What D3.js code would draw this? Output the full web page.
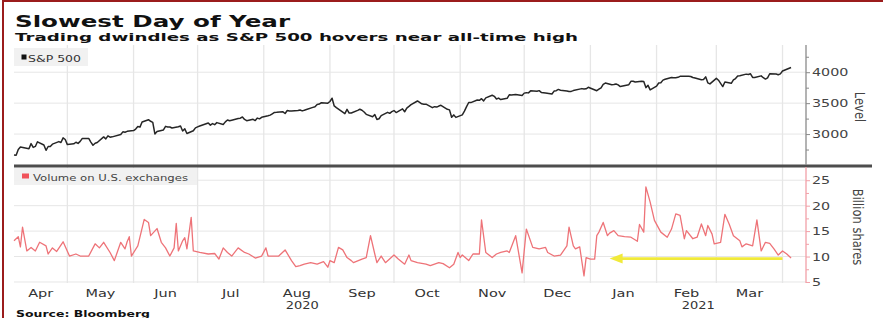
<!DOCTYPE html>
<html lang="en">
<head>
<meta charset="UTF-8">
<title>Slowest Day of Year</title>
<script src="https://cdn.jsdelivr.net/npm/d3@7"></script>
<style>
  body { margin: 0; background: #fff; overflow: hidden; }
  svg { display: block; font-family: "DejaVu Sans", Verdana, sans-serif; }
</style>
</head>
<body>
<svg id="chart" width="883" height="318"></svg>
<script>
// ---- data ----
// S&P 500 closing level, one row per week
const spDates = [
  "2020-04-06","2020-04-07","2020-04-08","2020-04-09",
  "2020-04-13","2020-04-14","2020-04-15","2020-04-16","2020-04-17",
  "2020-04-20","2020-04-21","2020-04-22","2020-04-23","2020-04-24",
  "2020-04-27","2020-04-28","2020-04-29","2020-04-30","2020-05-01",
  "2020-05-04","2020-05-05","2020-05-06","2020-05-07","2020-05-08",
  "2020-05-11","2020-05-12","2020-05-13","2020-05-14","2020-05-15",
  "2020-05-18","2020-05-19","2020-05-20","2020-05-21","2020-05-22",
  "2020-05-26","2020-05-27","2020-05-28","2020-05-29",
  "2020-06-01","2020-06-02","2020-06-03","2020-06-04","2020-06-05",
  "2020-06-08","2020-06-09","2020-06-10","2020-06-11","2020-06-12",
  "2020-06-15","2020-06-16","2020-06-17","2020-06-18","2020-06-19",
  "2020-06-22","2020-06-23","2020-06-24","2020-06-25","2020-06-26",
  "2020-06-29","2020-06-30","2020-07-01","2020-07-02",
  "2020-07-06","2020-07-07","2020-07-08","2020-07-09","2020-07-10",
  "2020-07-13","2020-07-14","2020-07-15","2020-07-16","2020-07-17",
  "2020-07-20","2020-07-21","2020-07-22","2020-07-23","2020-07-24",
  "2020-07-27","2020-07-28","2020-07-29","2020-07-30","2020-07-31",
  "2020-08-03","2020-08-04","2020-08-05","2020-08-06","2020-08-07",
  "2020-08-10","2020-08-11","2020-08-12","2020-08-13","2020-08-14",
  "2020-08-17","2020-08-18","2020-08-19","2020-08-20","2020-08-21",
  "2020-08-24","2020-08-25","2020-08-26","2020-08-27","2020-08-28",
  "2020-08-31","2020-09-01","2020-09-02","2020-09-03","2020-09-04",
  "2020-09-08","2020-09-09","2020-09-10","2020-09-11",
  "2020-09-14","2020-09-15","2020-09-16","2020-09-17","2020-09-18",
  "2020-09-21","2020-09-22","2020-09-23","2020-09-24","2020-09-25",
  "2020-09-28","2020-09-29","2020-09-30","2020-10-01","2020-10-02",
  "2020-10-05","2020-10-06","2020-10-07","2020-10-08","2020-10-09",
  "2020-10-12","2020-10-13","2020-10-14","2020-10-15","2020-10-16",
  "2020-10-19","2020-10-20","2020-10-21","2020-10-22","2020-10-23",
  "2020-10-26","2020-10-27","2020-10-28","2020-10-29","2020-10-30",
  "2020-11-02","2020-11-03","2020-11-04","2020-11-05","2020-11-06",
  "2020-11-09","2020-11-10","2020-11-11","2020-11-12","2020-11-13",
  "2020-11-16","2020-11-17","2020-11-18","2020-11-19","2020-11-20",
  "2020-11-23","2020-11-24","2020-11-25","2020-11-27",
  "2020-11-30","2020-12-01","2020-12-02","2020-12-03","2020-12-04",
  "2020-12-07","2020-12-08","2020-12-09","2020-12-10","2020-12-11",
  "2020-12-14","2020-12-15","2020-12-16","2020-12-17","2020-12-18",
  "2020-12-21","2020-12-22","2020-12-23","2020-12-24",
  "2020-12-28","2020-12-29","2020-12-30","2020-12-31",
  "2021-01-04","2021-01-05","2021-01-06","2021-01-07","2021-01-08",
  "2021-01-11","2021-01-12","2021-01-13","2021-01-14","2021-01-15",
  "2021-01-19","2021-01-20","2021-01-21","2021-01-22",
  "2021-01-25","2021-01-26","2021-01-27","2021-01-28","2021-01-29",
  "2021-02-01","2021-02-02","2021-02-03","2021-02-04","2021-02-05",
  "2021-02-08","2021-02-09","2021-02-10","2021-02-11","2021-02-12",
  "2021-02-16","2021-02-17","2021-02-18","2021-02-19",
  "2021-02-22","2021-02-23","2021-02-24","2021-02-25","2021-02-26",
  "2021-03-01","2021-03-02","2021-03-03","2021-03-04","2021-03-05",
  "2021-03-08","2021-03-09","2021-03-10","2021-03-11","2021-03-12",
  "2021-03-15","2021-03-16","2021-03-17","2021-03-18","2021-03-19",
  "2021-03-22","2021-03-23","2021-03-24","2021-03-25","2021-03-26",
  "2021-03-29","2021-03-30","2021-03-31","2021-04-01",
  "2021-04-05"
];
const spLevel = [
  2663, 2659, 2750, 2790,
  2762, 2846, 2784, 2800, 2875,
  2823, 2737, 2799, 2798, 2837,
  2878, 2863, 2939, 2912, 2830,
  2843, 2868, 2849, 2882, 2930,
  2930, 2870, 2820, 2852, 2864,
  2954, 2922, 2972, 2949, 2955,
  2992, 3036, 3030, 3044,
  3056, 3081, 3122, 3112, 3194,
  3232, 3207, 3190, 3002, 3041,
  3067, 3125, 3113, 3115, 3098,
  3118, 3131, 3050, 3084, 3009,
  3053, 3100, 3116, 3130,
  3180, 3145, 3169, 3152, 3185,
  3155, 3197, 3227, 3216, 3225,
  3251, 3257, 3276, 3236, 3216,
  3239, 3218, 3258, 3246, 3271,
  3295, 3306, 3327, 3349, 3351,
  3360, 3333, 3380, 3373, 3373,
  3382, 3390, 3375, 3385, 3397,
  3431, 3443, 3479, 3485, 3508,
  3500, 3527, 3580, 3455, 3427,
  3331, 3399, 3339, 3341,
  3384, 3401, 3385, 3357, 3319,
  3281, 3315, 3237, 3247, 3298,
  3351, 3335, 3363, 3380, 3348,
  3408, 3361, 3419, 3447, 3477,
  3535, 3512, 3489, 3483, 3484,
  3427, 3443, 3436, 3453, 3465,
  3401, 3391, 3271, 3310, 3270,
  3310, 3370, 3443, 3510, 3509,
  3550, 3545, 3572, 3537, 3585,
  3627, 3610, 3568, 3582, 3558,
  3578, 3635, 3630, 3638,
  3622, 3662, 3669, 3666, 3699,
  3692, 3702, 3673, 3668, 3663,
  3647, 3695, 3702, 3722, 3709,
  3695, 3687, 3690, 3703,
  3735, 3727, 3732, 3756,
  3701, 3726, 3748, 3804, 3825,
  3799, 3801, 3810, 3795, 3768,
  3798, 3852, 3853, 3841,
  3855, 3849, 3751, 3788, 3714,
  3774, 3826, 3830, 3872, 3887,
  3916, 3911, 3910, 3917, 3934,
  3933, 3931, 3914, 3907,
  3877, 3881, 3925, 3829, 3811,
  3901, 3871, 3820, 3768, 3842,
  3821, 3875, 3898, 3939, 3943,
  3969, 3963, 3974, 3915, 3913,
  3941, 3911, 3889, 3910, 3975,
  3971, 3959, 3973, 4020,
  4077
];

// volume on U.S. exchanges, billion shares
const volDates = [
  "2020-04-06","2020-04-08","2020-04-09","2020-04-10","2020-04-12","2020-04-14","2020-04-16","2020-04-18",
  "2020-04-21","2020-04-22","2020-04-24","2020-04-26","2020-04-29","2020-05-02","2020-05-05","2020-05-07",
  "2020-05-11","2020-05-14","2020-05-16","2020-05-18","2020-05-21","2020-05-23","2020-05-26","2020-05-28",
  "2020-05-29","2020-05-30","2020-05-31","2020-06-03","2020-06-06","2020-06-08","2020-06-09","2020-06-12",
  "2020-06-14","2020-06-16","2020-06-18","2020-06-20","2020-06-21","2020-06-22","2020-06-24","2020-06-25",
  "2020-06-26","2020-06-28","2020-06-29","2020-07-02","2020-07-06","2020-07-09","2020-07-11","2020-07-13",
  "2020-07-15","2020-07-17","2020-07-20","2020-07-23","2020-07-25","2020-07-28","2020-07-31","2020-08-02",
  "2020-08-03","2020-08-08","2020-08-11","2020-08-14","2020-08-16","2020-08-18","2020-08-20","2020-08-23",
  "2020-08-26","2020-08-29","2020-08-31","2020-09-01","2020-09-03","2020-09-05","2020-09-07","2020-09-09",
  "2020-09-11","2020-09-12","2020-09-16","2020-09-18","2020-09-20","2020-09-22","2020-09-23","2020-09-25",
  "2020-09-27","2020-10-01","2020-10-03","2020-10-06","2020-10-08","2020-10-09","2020-10-12","2020-10-16",
  "2020-10-18","2020-10-22","2020-10-24","2020-10-27","2020-10-29","2020-10-31","2020-11-01","2020-11-02",
  "2020-11-05","2020-11-07","2020-11-10","2020-11-11","2020-11-13","2020-11-16","2020-11-18","2020-11-20",
  "2020-11-23","2020-11-24","2020-11-27","2020-11-30","2020-12-02","2020-12-05","2020-12-08","2020-12-11",
  "2020-12-12","2020-12-15","2020-12-18","2020-12-21","2020-12-22","2020-12-24","2020-12-25","2020-12-27",
  "2020-12-29","2020-12-30","2021-01-01","2021-01-03","2021-01-04","2021-01-05","2021-01-07","2021-01-09",
  "2021-01-10","2021-01-12","2021-01-14","2021-01-17","2021-01-20","2021-01-23","2021-01-24","2021-01-26",
  "2021-01-27","2021-01-29","2021-01-31","2021-02-03","2021-02-06","2021-02-08","2021-02-10","2021-02-12",
  "2021-02-14","2021-02-15","2021-02-18","2021-02-20","2021-02-22","2021-02-24","2021-02-25","2021-02-27",
  "2021-02-28","2021-03-03","2021-03-05","2021-03-07","2021-03-09","2021-03-12","2021-03-13","2021-03-15",
  "2021-03-18","2021-03-20","2021-03-22","2021-03-24","2021-03-26","2021-03-28","2021-03-30","2021-04-01",
  "2021-04-03","2021-04-05"
];
const volShares = [
  13.1, 13.9, 11.9, 15.8, 11.1, 11.8, 11.1, 12.8,
  12.1, 10.5, 11.7, 11.0, 12.9, 10.1, 10.5, 10.1,
  10.1, 12.5, 11.7, 12.8, 10.8, 9.2, 12.8, 11.5,
  12.9, 13.9, 10.1, 12.1, 17.3, 16.7, 14.1, 15.5,
  12.8, 11.7, 10.1, 11.7, 16.5, 11.1, 13.1, 13.7,
  11.5, 17.7, 11.1, 10.8, 10.5, 10.6, 9.5, 11.7,
  10.8, 10.1, 11.7, 10.8, 10.5, 9.7, 10.1, 11.7,
  10.1, 10.1, 11.3, 9.2, 8.0, 8.2, 8.5, 8.8,
  8.5, 9.0, 7.9, 9.2, 8.8, 11.8, 11.3, 9.8,
  9.2, 8.8, 9.5, 9.8, 14.1, 10.5, 8.8, 10.1,
  8.8, 10.3, 9.5, 8.5, 10.3, 9.2, 8.8, 8.5,
  8.2, 8.8, 8.6, 7.8, 8.5, 10.8, 9.8, 10.3,
  9.2, 10.5, 10.5, 17.2, 10.8, 9.8, 10.5, 10.8,
  11.1, 10.8, 14.1, 6.8, 15.4, 11.8, 11.5, 11.8,
  10.8, 10.1, 10.3, 12.1, 15.8, 12.1, 11.5, 11.9,
  6.2, 9.8, 9.5, 9.5, 14.1, 14.8, 16.7, 14.1,
  14.6, 15.1, 14.1, 13.9, 13.8, 13.0, 16.3, 14.8,
  23.7, 20.7, 17.1, 14.8, 13.8, 15.4, 18.4, 18.1,
  13.5, 15.1, 13.5, 13.8, 16.4, 14.1, 16.1, 14.4,
  12.5, 12.8, 18.3, 16.4, 14.1, 13.1, 11.9, 12.5,
  12.1, 17.2, 11.1, 12.8, 12.6, 11.5, 10.3, 11.1,
  10.5, 9.7
];

// axes and labels
const levelTicks = [3000, 3500, 4000];
const levelMinor = [2750, 3250, 3750, 4250];
const volTicks = [5, 10, 15, 20, 25];
const volMinor = [7.5, 12.5, 17.5, 22.5];
const monthStarts = ["2020-04-01","2020-05-01","2020-06-01","2020-07-01","2020-08-01","2020-09-01",
                     "2020-10-01","2020-11-01","2020-12-01","2021-01-01","2021-02-01","2021-03-01","2021-04-01"];
const monthNames = ["Apr","May","Jun","Jul","Aug","Sep","Oct","Nov","Dec","Jan","Feb","Mar"];
const yearNames = ["2020", "2021"];
const yearStarts = ["2020-01-01", "2021-01-01", "2022-01-01"];

// yellow arrow: latest volume carried back to early January
const arrowFrom = "2021-04-01", arrowTo = "2021-01-10", arrowLevel = 9.6;

// ---- drawing ----
const parse = d3.timeParse("%Y-%m-%d");
const svg = d3.select("#chart");

const plotLeft = 14, plotRight = 806;
const topPanel = [45, 165], volPanel = [167, 283];
const xStart = parse("2020-04-06"), xEnd = parse("2021-04-12");

const x = d3.scaleTime().domain([xStart, xEnd]).range([plotLeft, plotRight]);
const yLevel = d3.scaleLinear().domain([2500, 4440]).range([topPanel[1], topPanel[0]]);
const yVol = d3.scaleLinear().domain([4.8, 27.6]).range([volPanel[1], volPanel[0]]);

// the reference text is stretched sideways, so every label gets an x-scale
function label(px, py, str, o) {
  let tr = `translate(${px},${py}) scale(${o.sx || 1},1)`;
  if (o.rot) tr += ` rotate(${o.rot})`;
  const t = svg.append("g").attr("transform", tr)
    .append("text")
    .text(str)
    .attr("font-size", o.size)
    .attr("font-weight", o.bold ? "bold" : "normal")
    .attr("fill", o.fill || "#333")
    .attr("text-anchor", o.anchor || "start");
  if (o.len) t.attr("textLength", o.len).attr("lengthAdjust", "spacingAndGlyphs");
  return t;
}

svg.append("rect").attr("width", 883).attr("height", 318).attr("fill", "#fff");

// gridlines
const months = monthStarts.map(parse);
svg.append("g").selectAll("line")
  .data(months.filter(d => d > xStart))
  .join("line")
  .attr("x1", d => x(d)).attr("x2", d => x(d))
  .attr("y1", topPanel[0]).attr("y2", volPanel[1])
  .attr("stroke", "#e6e6e6").attr("stroke-width", 1.3);

svg.append("g").selectAll("line")
  .data(levelTicks)
  .join("line")
  .attr("x1", plotLeft).attr("x2", plotRight)
  .attr("y1", d => yLevel(d)).attr("y2", d => yLevel(d))
  .attr("stroke", "#e6e6e6");

svg.append("g").selectAll("line")
  .data(volTicks)
  .join("line")
  .attr("x1", plotLeft).attr("x2", plotRight)
  .attr("y1", d => yVol(d)).attr("y2", d => yVol(d))
  .attr("stroke", "#e6e6e6");

// legends
svg.append("rect").attr("x", 14).attr("y", 48).attr("width", 74).attr("height", 18)
  .attr("fill", "#f0f0f0").attr("opacity", 0.92);
svg.append("rect").attr("x", 21.5).attr("y", 54.5).attr("width", 5).attr("height", 5).attr("fill", "#111");
label(28, 61.5, "S&P 500", {size: 9, len: 53, fill: "#333"});

svg.append("rect").attr("x", 14).attr("y", 168).attr("width", 183).attr("height", 17)
  .attr("fill", "#f0f0f0").attr("opacity", 0.92);
svg.append("rect").attr("x", 22).attr("y", 173.5).attr("width", 7).attr("height", 5).attr("fill", "#f0525a");
label(33, 180.5, "Volume on U.S. exchanges", {size: 9.5, len: 155, fill: "#444"});

// series
const spData = spDates.map((d, i) => ({date: parse(d), value: spLevel[i]}));
const volData = volDates.map((d, i) => ({date: parse(d), value: volShares[i]}));

svg.append("path")
  .datum(spData)
  .attr("fill", "none")
  .attr("stroke", "#262626")
  .attr("stroke-width", 1.5)
  .attr("stroke-linejoin", "round")
  .attr("d", d3.line().x(d => x(d.date)).y(d => yLevel(d.value)));

svg.append("path")
  .datum(volData)
  .attr("fill", "none")
  .attr("stroke", "#ee7378")
  .attr("stroke-width", 1.3)
  .attr("stroke-linejoin", "round")
  .attr("d", d3.line().x(d => x(d.date)).y(d => yVol(d.value)));

// separator between panels
svg.append("line")
  .attr("x1", plotLeft).attr("x2", 872)
  .attr("y1", 166).attr("y2", 166)
  .attr("stroke", "#4d4d4d").attr("stroke-width", 3);

// right axes
function rightAxis(scale, major, minor, color, y0, y1) {
  svg.append("line").attr("x1", plotRight).attr("x2", plotRight)
    .attr("y1", y0).attr("y2", y1).attr("stroke", color).attr("stroke-width", 1.3);
  const gMinor = svg.append("g").attr("transform", `translate(${plotRight},0)`)
    .call(d3.axisRight(scale).tickValues(minor).tickSize(3).tickFormat(""));
  const gMajor = svg.append("g").attr("transform", `translate(${plotRight},0)`)
    .call(d3.axisRight(scale).tickValues(major).tickSize(4).tickPadding(2).tickFormat(d3.format("d")));
  [gMinor, gMajor].forEach(g => {
    g.select(".domain").remove();
    g.selectAll("line").attr("stroke", color);
  });
  gMajor.selectAll("text")
    .attr("x", 6 / 1.3)
    .attr("transform", "scale(1.3,1)")
    .attr("font-size", 11)
    .attr("font-family", "DejaVu Sans, sans-serif")
    .attr("fill", "#444");
}
rightAxis(yLevel, levelTicks, levelMinor, "#8a8a8a", topPanel[0], topPanel[1]);
rightAxis(yVol, volTicks, volMinor, "#f2a0a8", volPanel[0], volPanel[1]);

label(855, 107, "Level", {size: 11.5, sx: 1.3, rot: 90, anchor: "middle", fill: "#444"});
label(853, 227, "Billion shares", {size: 11.5, sx: 1.3, rot: 90, anchor: "middle", fill: "#444"});

// month labels, centred in the visible part of each month
monthNames.forEach((m, i) => {
  const a = d3.max([months[i], xStart]);
  const b = d3.min([months[i + 1], xEnd]);
  label((x(a) + x(b)) / 2, 297, m, {size: 10, sx: 1.45, anchor: "middle", fill: "#333"});
});
yearNames.forEach((yname, i) => {
  const a = d3.max([parse(yearStarts[i]), xStart]);
  const b = d3.min([parse(yearStarts[i + 1]), xEnd]);
  label((x(a) + x(b)) / 2, 309, yname, {size: 10, sx: 1.3, anchor: "middle", fill: "#333"});
});

// arrow annotation
const ay = yVol(arrowLevel);
const ax0 = x(parse(arrowFrom)), ax1 = x(parse(arrowTo));
svg.append("line")
  .attr("x1", ax0).attr("x2", ax1 + 10)
  .attr("y1", ay).attr("y2", ay)
  .attr("stroke", "#f1ea3a").attr("stroke-width", 2.6);
svg.append("path")
  .attr("d", `M${ax1},${ay} L${ax1 + 13},${ay - 5} L${ax1 + 13},${ay + 5} Z`)
  .attr("fill", "#f1ea3a");

// titles
label(15, 27, "Slowest Day of Year", {size: 16, bold: true, len: 275, fill: "#111"});
label(15, 41, "Trading dwindles as S&P 500 hovers near all-time high", {size: 11, bold: true, len: 563, fill: "#111"});
label(16, 317, "Source: Bloomberg", {size: 9.5, bold: true, len: 134, fill: "#111"});

// frame
svg.append("path")
  .attr("d", "M3,318 V1 H883")
  .attr("fill", "none")
  .attr("stroke", "#9b1c1c")
  .attr("stroke-width", 2);
</script>
</body>
</html>
